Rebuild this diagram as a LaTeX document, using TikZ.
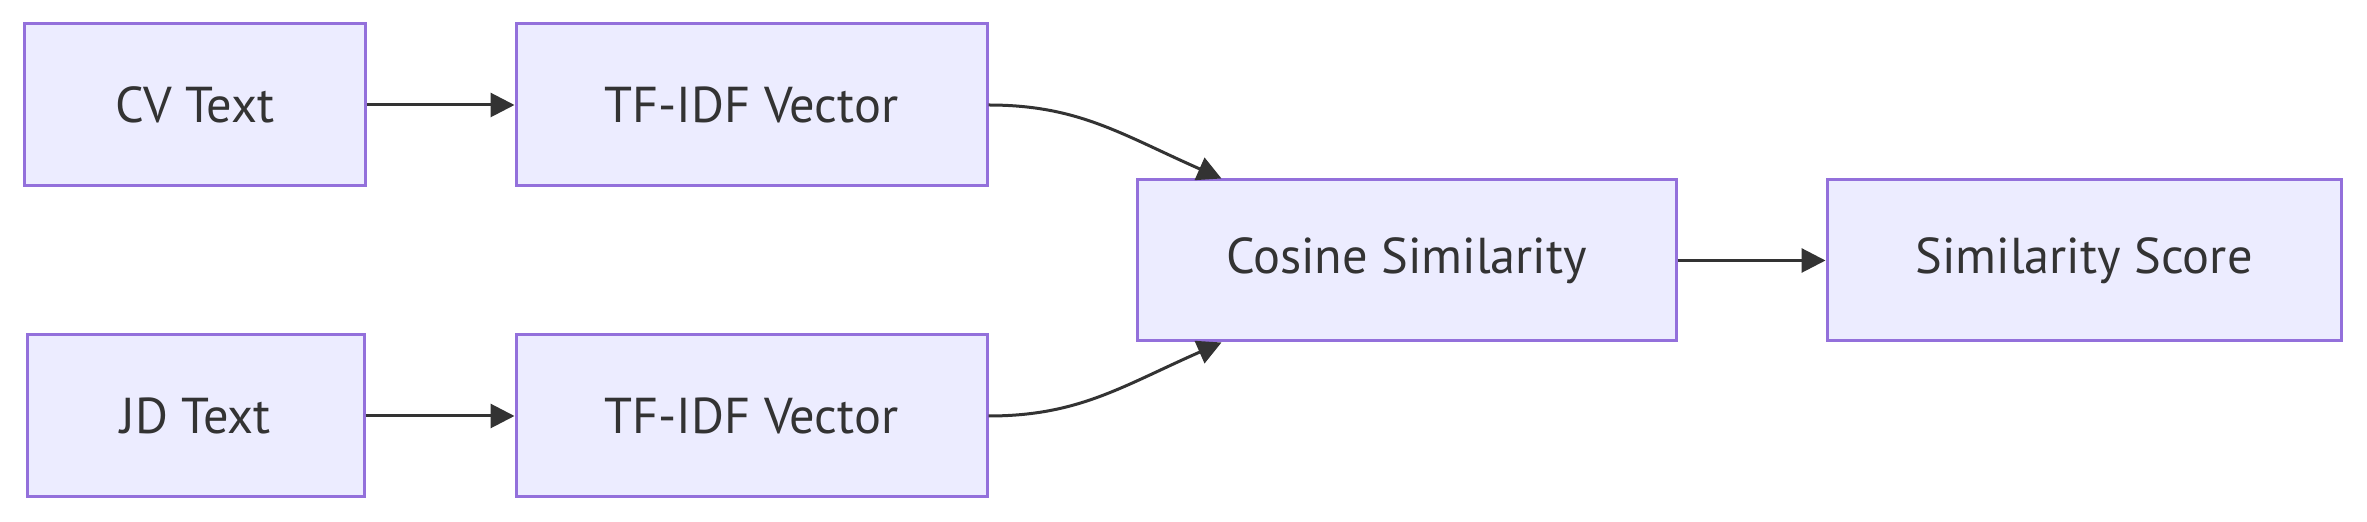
\documentclass[tikz,border=0pt]{standalone}
\usepackage{fontspec}
\setmainfont{PT Sans}
\usetikzlibrary{arrows.meta,calc}
\definecolor{boxfill}{HTML}{ECECFF}
\definecolor{boxline}{HTML}{9370DB}
\definecolor{ink}{HTML}{333333}
\tikzset{
  box/.style={draw=boxline, fill=boxfill, line width=1.5pt, minimum height=81pt,
    inner sep=0pt, text=ink, font=\fontsize{25.2}{30}\selectfont},
  conn/.style={draw=ink, line width=1.5pt, -{Triangle[length=12pt,width=12pt]}}
}
\begin{document}
\begin{tikzpicture}[x=0.5pt,y=-0.5pt]
\useasboundingbox (0,0) rectangle (2367,522);
\node[box, minimum width=170.5pt] (cv) at (195,105) {CV Text};
\node[box, minimum width=235.5pt] (tf1) at (751.5,105) {TF-IDF Vector};
\node[box, minimum width=168.5pt] (jd) at (195.5,416) {JD Text};
\node[box, minimum width=235.5pt] (tf2) at (751.5,416) {TF-IDF Vector};
\node[box, minimum width=269.5pt, minimum height=80.5pt] (cos) at (1406.5,260.5) {Cosine Similarity};
\node[box, minimum width=257pt, minimum height=80.5pt] (score) at (2084,260.5) {Similarity Score};
\draw[conn] (cv) -- (tf1);
\draw[conn] (jd) -- (tf2);
\draw[conn] (cos) -- (score);
\draw[conn] (tf1.east) .. controls ++(45pt,0) and ++(-50pt,22pt) .. ([xshift=43pt]cos.north west);
\draw[conn] (tf2.east) .. controls ++(45pt,0) and ++(-50pt,-22pt) .. ([xshift=43pt]cos.south west);
\end{tikzpicture}
\end{document}
